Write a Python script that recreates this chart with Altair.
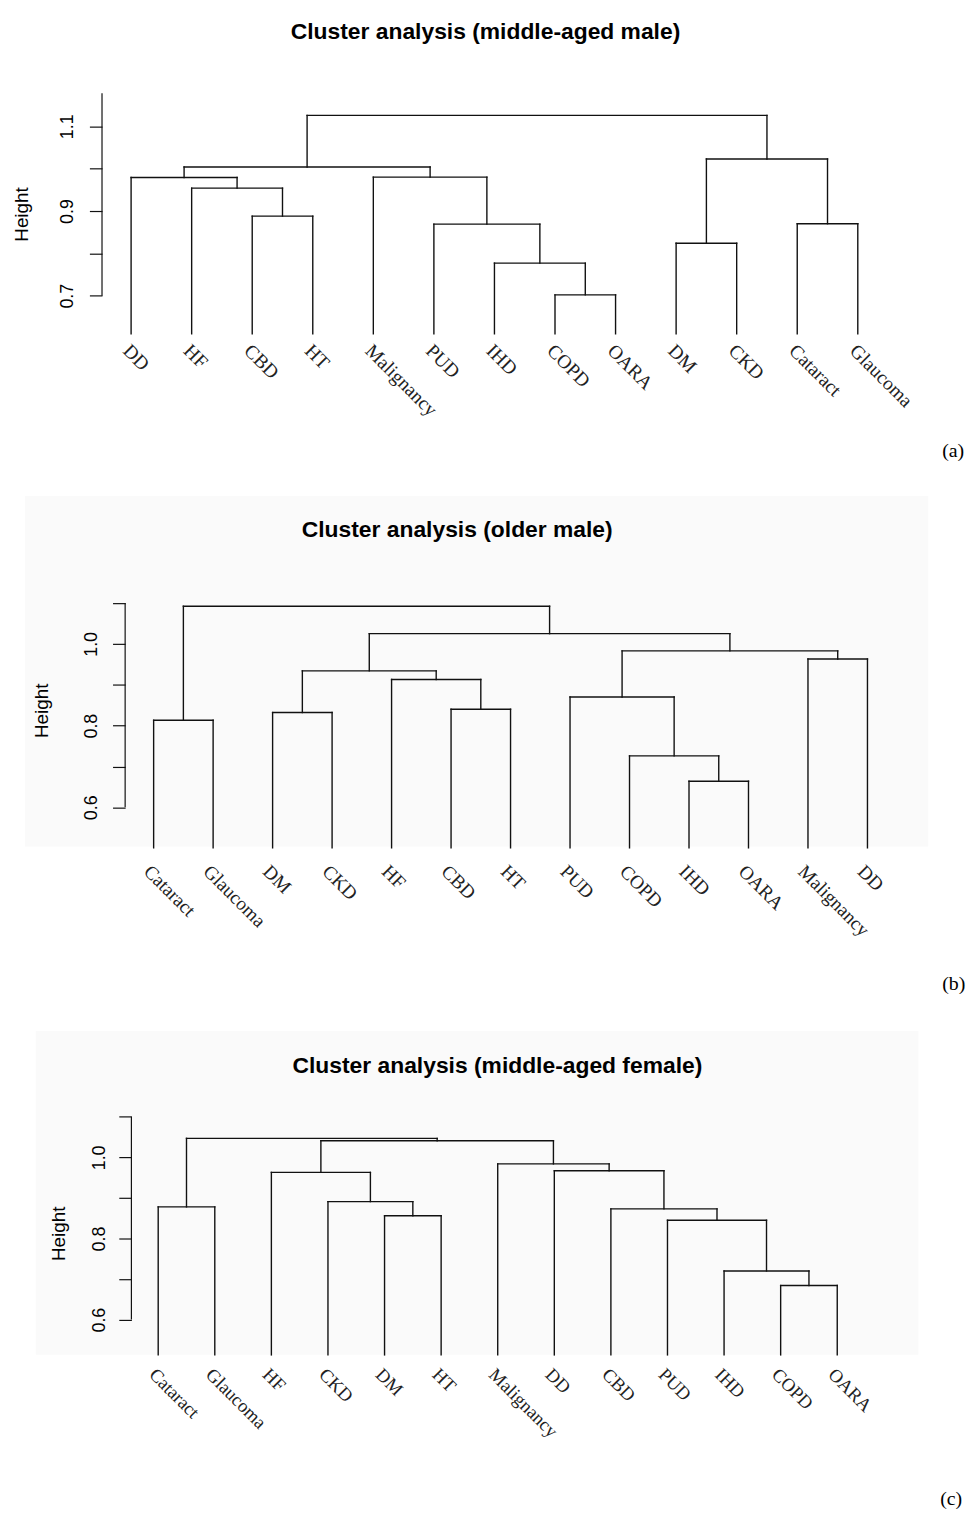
import altair as alt
import pandas as pd

# ---------------- data ----------------
TITLES = ["Cluster analysis (middle-aged male)",
          "Cluster analysis (older male)",
          "Cluster analysis (middle-aged female)"]
TAGS = ["(a)", "(b)", "(c)"]

# panel (a): leaf order, merges (left child, right child, height); ints = earlier merge number
LEAVES_A = ["DD", "HF", "CBD", "HT", "Malignancy", "PUD", "IHD", "COPD", "OARA",
            "DM", "CKD", "Cataract", "Glaucoma"]
LEFT_A = ["COPD", "IHD", "DM", "PUD", "Cataract", "CBD", "HF", "DD", "Malignancy", 8, 3, 10]
RIGHT_A = ["OARA", 1, "CKD", 2, "Glaucoma", "HT", 6, 7, 4, 9, 5, 11]
HEIGHT_A = [0.702, 0.777, 0.824, 0.869, 0.870, 0.888, 0.954, 0.979, 0.980, 1.004, 1.023, 1.126]
BASE_A = 0.61

# panel (b)
LEAVES_B = ["Cataract", "Glaucoma", "DM", "CKD", "HF", "CBD", "HT", "PUD", "COPD",
            "IHD", "OARA", "Malignancy", "DD"]
LEFT_B = ["IHD", "COPD", "Cataract", "DM", "CBD", "PUD", "HF", 4, "Malignancy", 6, 8, 3]
RIGHT_B = ["OARA", 1, "Glaucoma", "CKD", "HT", 2, 5, 7, "DD", 9, 10, 11]
HEIGHT_B = [0.664, 0.726, 0.813, 0.832, 0.840, 0.870, 0.913, 0.934, 0.963, 0.983, 1.025, 1.092]
BASE_B = 0.501

# panel (c)
LEAVES_C = ["Cataract", "Glaucoma", "HF", "CKD", "DM", "HT", "Malignancy", "DD", "CBD",
            "PUD", "IHD", "COPD", "OARA"]
LEFT_C = ["COPD", "IHD", "PUD", "DM", "CBD", "Cataract", "CKD", "HF", "DD", "Malignancy", 8, 6]
RIGHT_C = ["OARA", 1, 2, "HT", 3, "Glaucoma", 4, 7, 5, 9, 10, 11]
HEIGHT_C = [0.684, 0.720, 0.845, 0.856, 0.873, 0.878, 0.891, 0.963, 0.967, 0.984, 1.041, 1.047]
BASE_C = 0.513

TICKS = [[0.7, 0.8, 0.9, 1.0, 1.1],
         [0.6, 0.7, 0.8, 0.9, 1.0, 1.1],
         [0.6, 0.7, 0.8, 0.9, 1.0, 1.1]]
TICK_LABELS = [["0.7", "0.9", "1.1"], ["0.6", "0.8", "1.0"], ["0.6", "0.8", "1.0"]]
AXIS_SPAN = [(0.7, 1.178), (0.6, 1.1), (0.6, 1.1)]

# ---------------- layout (page pixels) ----------------
PAGE_W = 958
GEO = [
    dict(top=8, bottom=470, ref=0.7, ref_px=292.3, ppu=426.5, axis_px=102.7,
         first=132.0, step=61.0, lab_pad=13, htx=21.7, hty=210,
         tx=489, ty=34, tagx=949, tagy=455, ldx=6.5, ldy=19.5, lfs=19.5, bg=None),
    dict(top=470, bottom=1010, ref=0.6, ref_px=807.7, ppu=411.7, axis_px=126.0,
         first=154.7, step=59.92, lab_pad=12, htx=41.7, hty=710,
         tx=460.5, ty=535, tagx=949, tagy=992, ldx=10.0, ldy=25.5, lfs=19.3,
         bg=(25, 935, 494, 847)),
    dict(top=1010, bottom=1512, ref=0.6, ref_px=1323.7, ppu=408.5, axis_px=132.3,
         first=159.3, step=57.0, lab_pad=10, htx=59.3, hty=1236.7,
         tx=501, ty=1075, tagx=947, tagy=1510, ldx=7.8, ldy=22.0, lfs=18.7,
         bg=(36, 925, 1033, 1359)),
]

INK = "#111111"


def panel(idx, leaves, left, right, heights, base):
    g = GEO[idx]
    pos = {n: k + 1 for k, n in enumerate(leaves)}
    nx, nh = {}, {}
    rows = []

    def child(c):
        if isinstance(c, int):
            return nx[c], nh[c]
        return pos[c], base

    for k, (l, r, h) in enumerate(zip(left, right, heights), start=1):
        lx, lh = child(l)
        rx, rh = child(r)
        rows.append(dict(x=lx, x2=lx, h=lh, h2=h))
        rows.append(dict(x=rx, x2=rx, h=rh, h2=h))
        rows.append(dict(x=lx, x2=rx, h=h, h2=h))
        nx[k] = (lx + rx) / 2
        nh[k] = h
    seg = pd.DataFrame(rows)

    height = g["bottom"] - g["top"]
    xlo = 1 + (8 - g["first"]) / g["step"]
    xhi = xlo + PAGE_W / g["step"]
    ylo = g["ref"] + (g["ref_px"] - g["bottom"]) / g["ppu"]
    yhi = g["ref"] + (g["ref_px"] - g["top"]) / g["ppu"]
    xs = alt.Scale(domain=[xlo, xhi], nice=False, zero=False)
    ys = alt.Scale(domain=[ylo, yhi], nice=False, zero=False)
    axis_local = g["axis_px"] - 8

    labs = TICK_LABELS[idx]
    expr = "indexof([" + ",".join("'" + s + "'" for s in labs) + "], datum.label) >= 0 ? datum.label : ''"
    yaxis = alt.Axis(values=TICKS[idx], format=".1f", labelExpr=expr, domain=False, grid=False,
                     ticks=True, tickSize=12.7, tickColor=INK, tickWidth=1.2,
                     labelAngle=270, labelAlign="center", labelBaseline="bottom",
                     labelPadding=g["lab_pad"], labelFont="Liberation Sans", labelFontSize=18,
                     labelColor="#000", labelOverlap=False, labelFlush=False,
                     offset=-axis_local, title="Height", titleAngle=270,
                     titleAlign="center", titleBaseline="middle",
                     titleX=g["htx"] - g["axis_px"], titleY=g["hty"] - g["top"],
                     titleFont="Liberation Sans", titleFontSize=19, titleFontWeight="normal",
                     titleColor="#000", zindex=2)

    layers = []
    if g["bg"] is not None:
        x1, x2, y1, y2 = g["bg"]
        layers.append(alt.Chart(pd.DataFrame({"k": [0]})).mark_rect(color="#fafafa").encode(
            x=alt.value(x1 - 8), x2=alt.value(x2 - 8),
            y=alt.value(y1 - g["top"]), y2=alt.value(y2 - g["top"])))

    layers.append(alt.Chart(seg).mark_rule(color=INK, strokeWidth=1.4, strokeCap="square").encode(
        x=alt.X("x:Q", scale=xs, axis=None), x2="x2:Q",
        y=alt.Y("h:Q", scale=ys, axis=yaxis), y2="h2:Q"))

    lo, hi = AXIS_SPAN[idx]
    layers.append(alt.Chart(pd.DataFrame({"h": [lo], "h2": [hi]})).mark_rule(
        color=INK, strokeWidth=1.2).encode(
        x=alt.value(axis_local), y=alt.Y("h:Q", scale=ys, axis=yaxis), y2="h2:Q"))

    lab = pd.DataFrame({"x": list(range(1, len(leaves) + 1)), "h": [base] * len(leaves),
                        "name": leaves})
    layers.append(alt.Chart(lab).mark_text(angle=45, align="left", baseline="alphabetic",
                                           dx=g["ldx"], dy=g["ldy"], font="Liberation Serif",
                                           fontSize=g["lfs"], color="#222").encode(
        x=alt.X("x:Q", scale=xs, axis=None), y=alt.Y("h:Q", scale=ys, axis=yaxis), text="name:N"))

    layers.append(alt.Chart(pd.DataFrame({"t": [TITLES[idx]]})).mark_text(
        font="Liberation Sans", fontSize=23, fontWeight="bold", align="center",
        baseline="alphabetic", color="#000").encode(
        x=alt.value(g["tx"] - 8), y=alt.value(g["ty"] - g["top"]), text="t:N"))

    layers.append(alt.Chart(pd.DataFrame({"t": [TAGS[idx]]})).mark_text(
        font="Liberation Serif", fontSize=20, align="left", baseline="alphabetic",
        color="#000").encode(
        x=alt.value(g["tagx"] - 8), y=alt.value(g["tagy"] - g["top"]), text="t:N"))

    return alt.layer(*layers).properties(width=PAGE_W, height=height)


pa = panel(0, LEAVES_A, LEFT_A, RIGHT_A, HEIGHT_A, BASE_A)
pb = panel(1, LEAVES_B, LEFT_B, RIGHT_B, HEIGHT_B, BASE_B)
pc = panel(2, LEAVES_C, LEFT_C, RIGHT_C, HEIGHT_C, BASE_C)

chart = alt.vconcat(pa, pb, pc, spacing=0, bounds="flush").properties(
    padding=0, background="white").configure_view(strokeWidth=0, stroke=None)

chart.save("out.html", embed_options={"renderer": "svg", "actions": False})
